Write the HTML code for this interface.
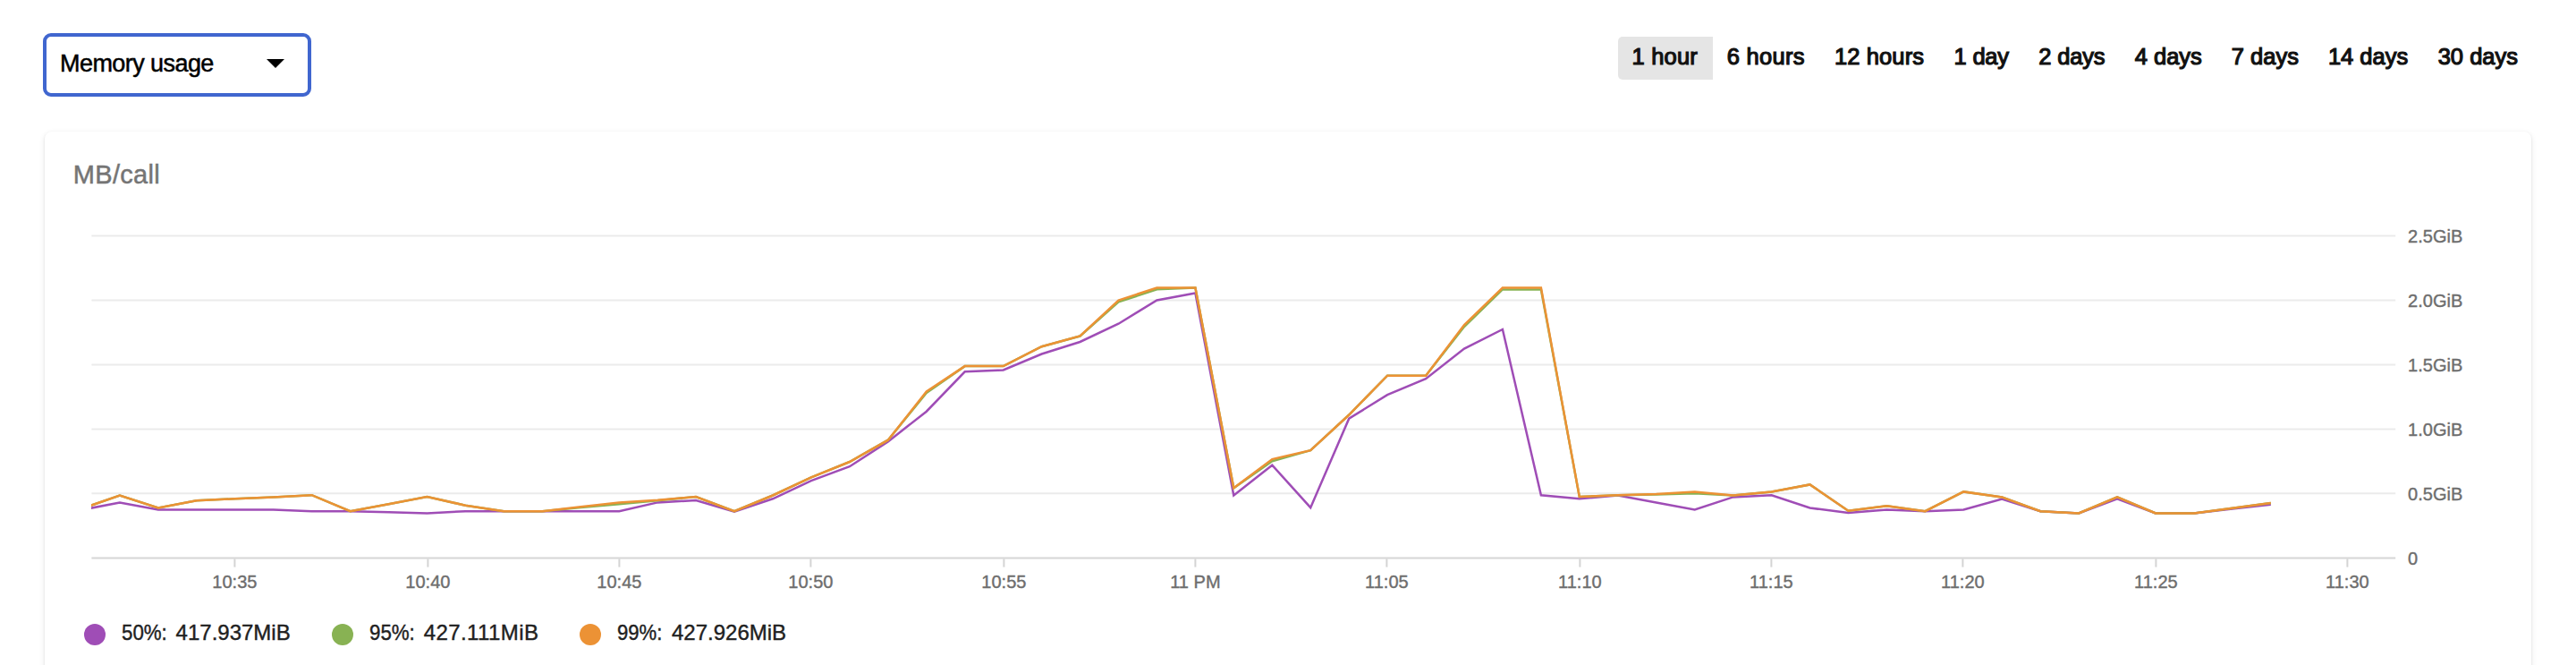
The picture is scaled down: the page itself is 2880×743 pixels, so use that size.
<!DOCTYPE html>
<html lang="en"><head><meta charset="utf-8"><title>Memory usage</title>
<style>
html,body{margin:0;padding:0;background:#fff;}
body{width:2880px;height:743px;overflow:hidden;position:relative;font-family:"Liberation Sans",Arial,sans-serif;color:#212121;}
.t{position:absolute;white-space:nowrap;line-height:1;transform-origin:0 0;}
.t-sel{font-size:27px;color:#000;-webkit-text-stroke:0.5px #000;}
.t-rb{font-size:25.5px;color:#111;-webkit-text-stroke:1.2px #111;}
.t-unit{font-size:29px;color:#757575;-webkit-text-stroke:0.5px #757575;}
.t-lg{font-size:24px;color:#212121;-webkit-text-stroke:0.4px #212121;}
.select{position:absolute;left:48px;top:37px;width:292px;height:63px;border:4px solid #4066cf;border-radius:9px;background:#fff;box-sizing:content-box;}
.arr{position:absolute;left:298px;top:66px;width:0;height:0;border-left:10px solid transparent;border-right:10px solid transparent;border-top:10px solid #000;}
.selbg{position:absolute;left:1809px;top:41px;width:106px;height:48px;background:#e5e5e5;border-radius:5px 0 0 5px;}
.card{position:absolute;left:49.7px;top:146.8px;width:2780.4px;height:700px;background:#fff;border-radius:8px;box-shadow:0 1px 2px rgba(0,0,0,0.10),0 2px 6px rgba(0,0,0,0.10);}
.chart{position:absolute;left:0;top:0;}
.dot{position:absolute;top:697px;width:24px;height:24px;border-radius:50%;}
</style></head><body>
<div class="select"></div><span id="sel" class="t t-sel" style="left:67.10px;top:58.24px;letter-spacing:-0.573px">Memory usage</span><span class="arr"></span>
<div class="ranges"><span class="selbg"></span><span id="r1" class="t t-rb" style="left:1824.60px;top:51.19px;letter-spacing:0.180px">1 hour</span><span id="r2" class="t t-rb" style="left:1930.70px;top:51.19px;letter-spacing:0.300px">6 hours</span><span id="r3" class="t t-rb" style="left:2050.90px;top:51.19px;letter-spacing:0.129px">12 hours</span><span id="r4" class="t t-rb" style="left:2184.60px;top:51.19px;letter-spacing:-0.225px">1 day</span><span id="r5" class="t t-rb" style="left:2279.30px;top:51.19px;letter-spacing:-0.180px">2 days</span><span id="r6" class="t t-rb" style="left:2386.70px;top:51.19px;letter-spacing:0.000px">4 days</span><span id="r7" class="t t-rb" style="left:2494.80px;top:51.19px;letter-spacing:0.000px">7 days</span><span id="r8" class="t t-rb" style="left:2602.90px;top:51.19px;letter-spacing:-0.000px">14 days</span><span id="r9" class="t t-rb" style="left:2725.70px;top:51.19px;letter-spacing:0.000px">30 days</span></div>
<div class="card"></div>
<span id="unit" class="t t-unit" style="left:81.80px;top:181.45px;letter-spacing:0.300px">MB/call</span>
<svg class="chart" width="2880" height="743" viewBox="0 0 2880 743">
<defs><clipPath id="cp"><rect x="102.0" y="250" width="2576.2" height="380"/></clipPath></defs>
<line x1="102.4" x2="2678.2" y1="263.4" y2="263.4" stroke="#ebebeb" stroke-width="2"/>
<line x1="102.4" x2="2678.2" y1="335.4" y2="335.4" stroke="#ebebeb" stroke-width="2"/>
<line x1="102.4" x2="2678.2" y1="407.4" y2="407.4" stroke="#ebebeb" stroke-width="2"/>
<line x1="102.4" x2="2678.2" y1="479.4" y2="479.4" stroke="#ebebeb" stroke-width="2"/>
<line x1="102.4" x2="2678.2" y1="551.3" y2="551.3" stroke="#ebebeb" stroke-width="2"/>
<line x1="102.4" x2="2678.2" y1="623.4" y2="623.4" stroke="#d6d6d6" stroke-width="2"/>
<line x1="262.4" x2="262.4" y1="624.4" y2="633.6" stroke="#d4d4d4" stroke-width="2"/>
<line x1="478.4" x2="478.4" y1="624.4" y2="633.6" stroke="#d4d4d4" stroke-width="2"/>
<line x1="692.4" x2="692.4" y1="624.4" y2="633.6" stroke="#d4d4d4" stroke-width="2"/>
<line x1="906.4" x2="906.4" y1="624.4" y2="633.6" stroke="#d4d4d4" stroke-width="2"/>
<line x1="1122.4" x2="1122.4" y1="624.4" y2="633.6" stroke="#d4d4d4" stroke-width="2"/>
<line x1="1336.4" x2="1336.4" y1="624.4" y2="633.6" stroke="#d4d4d4" stroke-width="2"/>
<line x1="1550.4" x2="1550.4" y1="624.4" y2="633.6" stroke="#d4d4d4" stroke-width="2"/>
<line x1="1766.4" x2="1766.4" y1="624.4" y2="633.6" stroke="#d4d4d4" stroke-width="2"/>
<line x1="1980.4" x2="1980.4" y1="624.4" y2="633.6" stroke="#d4d4d4" stroke-width="2"/>
<line x1="2194.4" x2="2194.4" y1="624.4" y2="633.6" stroke="#d4d4d4" stroke-width="2"/>
<line x1="2410.4" x2="2410.4" y1="624.4" y2="633.6" stroke="#d4d4d4" stroke-width="2"/>
<line x1="2624.4" x2="2624.4" y1="624.4" y2="633.6" stroke="#d4d4d4" stroke-width="2"/>
<g font-family="'Liberation Sans', Arial, sans-serif" font-size="20" fill="#6e6e6e" stroke="#6e6e6e" stroke-width="0.4">
<text x="262.4" y="657" text-anchor="middle">10:35</text>
<text x="478.4" y="657" text-anchor="middle">10:40</text>
<text x="692.4" y="657" text-anchor="middle">10:45</text>
<text x="906.4" y="657" text-anchor="middle">10:50</text>
<text x="1122.4" y="657" text-anchor="middle">10:55</text>
<text x="1336.4" y="657" text-anchor="middle">11 PM</text>
<text x="1550.4" y="657" text-anchor="middle">11:05</text>
<text x="1766.4" y="657" text-anchor="middle">11:10</text>
<text x="1980.4" y="657" text-anchor="middle">11:15</text>
<text x="2194.4" y="657" text-anchor="middle">11:20</text>
<text x="2410.4" y="657" text-anchor="middle">11:25</text>
<text x="2624.4" y="657" text-anchor="middle">11:30</text>
<text x="2692.1" y="270.7">2.5GiB</text>
<text x="2692.1" y="342.7">2.0GiB</text>
<text x="2692.1" y="414.7">1.5GiB</text>
<text x="2692.1" y="486.7">1.0GiB</text>
<text x="2692.1" y="558.6">0.5GiB</text>
<text x="2692.1" y="630.7">0</text>
</g>
<g clip-path="url(#cp)" fill="none" stroke-width="2.5" stroke-linejoin="miter" stroke-linecap="butt">
<polyline stroke="#9f4db6" points="91.0,569.8 133.9,561.4 176.9,569.4 219.8,569.4 262.8,569.4 305.7,569.4 348.6,571.2 391.6,571.2 434.5,572.2 477.5,573.5 520.4,571.2 563.4,571.2 606.3,571.2 649.3,571.2 692.2,571.2 735.2,561.4 778.1,559.1 821.0,571.8 864.0,557.3 906.9,537.1 949.9,521.2 992.8,493.5 1035.8,459.7 1078.7,415.3 1121.7,413.4 1164.6,395.5 1207.5,382.0 1250.5,361.7 1293.4,335.5 1336.4,327.4 1379.3,553.5 1422.3,519.7 1465.2,567.2 1508.2,467.7 1551.1,441.1 1594.1,423.2 1637.0,389.6 1679.9,368.0 1722.9,553.3 1765.8,557.3 1808.8,553.5 1851.7,561.4 1894.7,569.4 1937.6,555.4 1980.6,553.2 2023.5,567.5 2066.4,573.1 2109.4,569.4 2152.3,571.2 2195.3,569.4 2238.2,557.6 2281.2,571.2 2324.1,573.5 2367.1,557.3 2410.0,573.5 2453.0,573.5 2495.9,568.5 2538.8,563.8"/>
<polyline stroke="#88b253" points="91.0,568.4 133.9,553.5 176.9,567.5 219.8,559.3 262.8,557.3 305.7,555.4 348.6,553.2 391.6,571.2 434.5,563.2 477.5,555.0 520.4,564.7 563.4,571.2 606.3,571.2 649.3,567.0 692.2,563.2 735.2,559.2 778.1,555.0 821.0,571.2 864.0,553.5 906.9,533.4 949.9,516.0 992.8,491.7 1035.8,438.9 1078.7,409.1 1121.7,409.1 1164.6,387.2 1207.5,375.5 1250.5,337.4 1293.4,323.3 1336.4,321.5 1379.3,545.3 1422.3,515.2 1465.2,503.1 1508.2,463.5 1551.1,419.7 1594.1,419.7 1637.0,365.0 1679.9,323.4 1722.9,323.4 1765.8,555.0 1808.8,553.2 1851.7,552.6 1894.7,551.3 1937.6,553.5 1980.6,549.4 2023.5,541.4 2066.4,570.7 2109.4,565.3 2152.3,571.2 2195.3,549.4 2238.2,555.4 2281.2,571.2 2324.1,573.5 2367.1,555.4 2410.0,573.5 2453.0,573.5 2495.9,567.7 2538.8,561.9"/>
<polyline stroke="#ec9235" points="91.0,568.4 133.9,553.5 176.9,567.5 219.8,559.3 262.8,557.3 305.7,555.4 348.6,553.2 391.6,571.2 434.5,563.2 477.5,555.0 520.4,564.7 563.4,571.2 606.3,571.2 649.3,566.2 692.2,561.4 735.2,558.8 778.1,555.0 821.0,571.2 864.0,553.5 906.9,533.4 949.9,516.0 992.8,491.7 1035.8,437.5 1078.7,409.1 1121.7,409.1 1164.6,387.2 1207.5,375.5 1250.5,335.5 1293.4,321.5 1336.4,321.5 1379.3,545.3 1422.3,513.1 1465.2,503.1 1508.2,463.5 1551.1,419.7 1594.1,419.7 1637.0,363.1 1679.9,321.5 1722.9,321.5 1765.8,555.0 1808.8,553.2 1851.7,552.0 1894.7,549.4 1937.6,553.5 1980.6,549.4 2023.5,541.4 2066.4,570.7 2109.4,565.3 2152.3,571.2 2195.3,549.4 2238.2,555.4 2281.2,571.2 2324.1,573.5 2367.1,555.4 2410.0,573.5 2453.0,573.5 2495.9,567.7 2538.8,561.9"/>
</g>
</svg>
<div class="legend">
<span class="dot" style="left:94px;background:#9f4db6"></span><span id="l1a" class="t t-lg" style="left:135.80px;top:694.58px;transform:scaleX(0.9284)">50%:</span><span id="l1b" class="t t-lg" style="left:196.60px;top:694.58px;letter-spacing:0.000px">417.937MiB</span>
<span class="dot" style="left:371px;background:#88b253"></span><span id="l2a" class="t t-lg" style="left:413.10px;top:694.58px;transform:scaleX(0.9284)">95%:</span><span id="l2b" class="t t-lg" style="left:473.80px;top:694.58px;letter-spacing:0.400px">427.111MiB</span>
<span class="dot" style="left:648px;background:#ec9235"></span><span id="l3a" class="t t-lg" style="left:689.80px;top:694.58px;transform:scaleX(0.9210)">99%:</span><span id="l3b" class="t t-lg" style="left:751.00px;top:694.58px;letter-spacing:0.000px">427.926MiB</span>
</div>
</body></html>
